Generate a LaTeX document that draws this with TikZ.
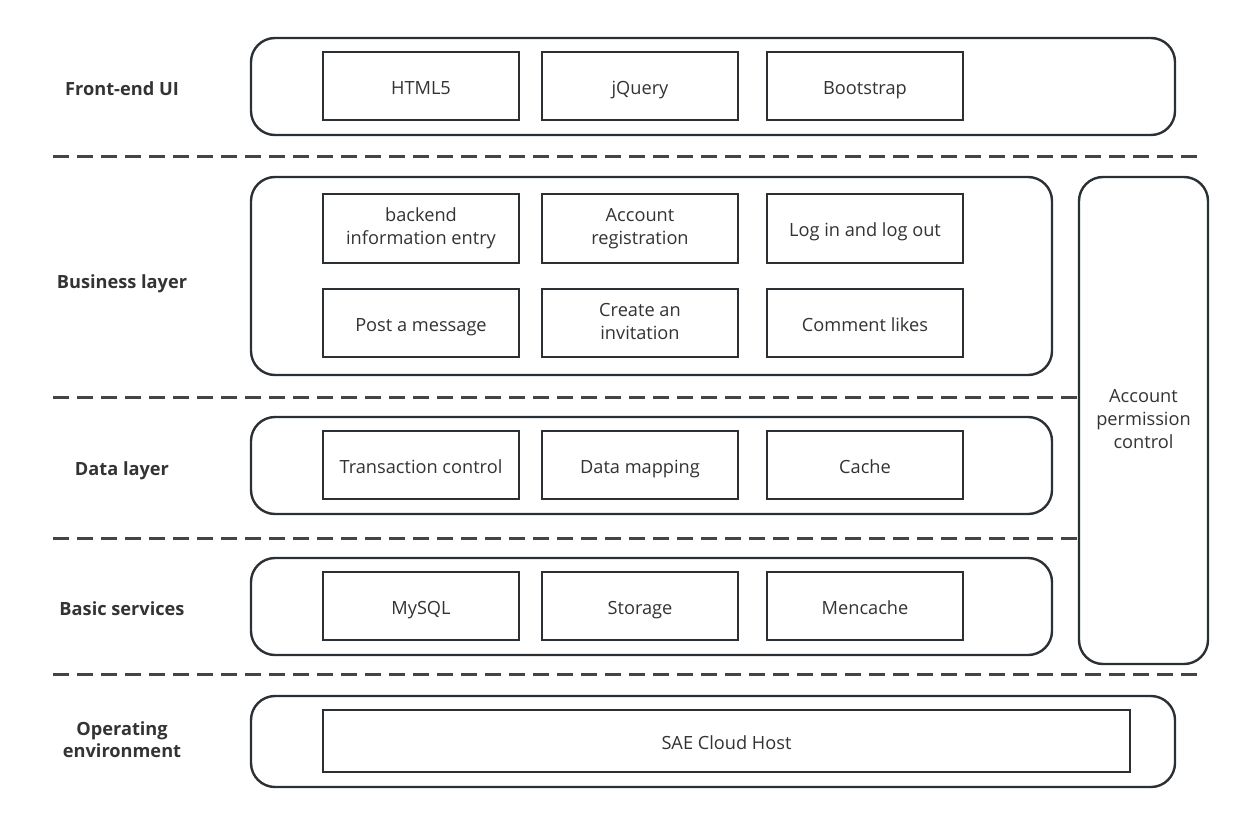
\documentclass[tikz,border=0pt]{standalone}
\usepackage{fontspec}
\setmainfont{Open Sans}
\newcommand{\mystrut}{\rule[-0.18em]{0pt}{1.32em}}
\begin{document}
\begin{tikzpicture}[x=1pt,y=-1pt,
  container/.style={draw=lineC,line width=2.4pt,rounded corners=24pt},
  item/.style={draw=lineC,line width=2pt,fill=white,font=\fontsize{18.2}{23}\selectfont,text=textC,align=center,inner sep=0pt,
    execute at begin node=\mystrut,execute at end node=\mystrut},
  sep/.style={draw=dashC,line width=3pt,dash pattern=on 16pt off 8pt},
  lab/.style={font=\fontsize{18.2}{22.5}\selectfont\bfseries,text=textC,align=center,
    execute at begin node=\mystrut,execute at end node=\mystrut}]
\definecolor{lineC}{HTML}{2B3035}
\definecolor{dashC}{HTML}{444444}
\definecolor{textC}{HTML}{333333}
\useasboundingbox (0,0) rectangle (1244,824);
% containers
\draw[container] (251,38) rectangle (1175,135);
\draw[container] (251,177) rectangle (1052,375);
\draw[container] (251,417) rectangle (1052,514);
\draw[container] (251,558) rectangle (1052,655);
\draw[container] (251,696) rectangle (1175,787);
% dashed separators
\coordinate (s1a) at (53,156); \coordinate (s1b) at (1202,156);
\coordinate (s2a) at (53,397); \coordinate (s2b) at (1078,397);
\coordinate (s3a) at (53,538); \coordinate (s3b) at (1078,538);
\coordinate (s4a) at (53,674); \coordinate (s4b) at (1202,674);
\draw[sep] (s1a) -- (s1b);
\draw[sep] (s2a) -- (s2b);
\draw[sep] (s3a) -- (s3b);
\draw[sep] (s4a) -- (s4b);
% labels
\node[lab] (l1) at (122,87) {Front-end UI};
\node[lab] (l2) at (122,280) {Business layer};
\node[lab] (l3) at (122,467) {Data layer};
\node[lab] (l4) at (122,607) {Basic services};
\node[lab] (l5) at (122,741) {Operating\\environment};
% boxes
\tikzset{bx/.style={item,minimum width=196pt,minimum height=68pt}}
\node[bx] (html) at (421,86) {HTML5};
\node[bx] (jq) at (640,86) {jQuery};
\node[bx] (bs) at (865,86) {Bootstrap};
\node[bx,minimum height=69pt] (be) at (421,228.5) {backend\\information entry};
\node[bx,minimum height=69pt] (ar) at (640,228.5) {Account\\registration};
\node[bx,minimum height=69pt] (lo) at (865,228.5) {Log in and log out};
\node[bx] (pm) at (421,323) {Post a message};
\node[bx] (ci) at (640,323) {Create an\\invitation};
\node[bx] (cl) at (865,323) {Comment likes};
\node[bx] (tc) at (421,465) {Transaction control};
\node[bx] (dm) at (640,465) {Data mapping};
\node[bx] (ca) at (865,465) {Cache};
\node[bx] (my) at (421,606) {MySQL};
\node[bx] (st) at (640,606) {Storage};
\node[bx] (mc) at (865,606) {Mencache};
\node[item,minimum width=807pt,minimum height=62pt] (sae) at (726.5,741) {SAE Cloud Host};
% right column
\node[item,line width=2.4pt,rounded corners=24pt,minimum width=129pt,minimum height=487pt] (apc) at (1143.5,420.5) {Account\\permission\\control};
\end{tikzpicture}
\end{document}
